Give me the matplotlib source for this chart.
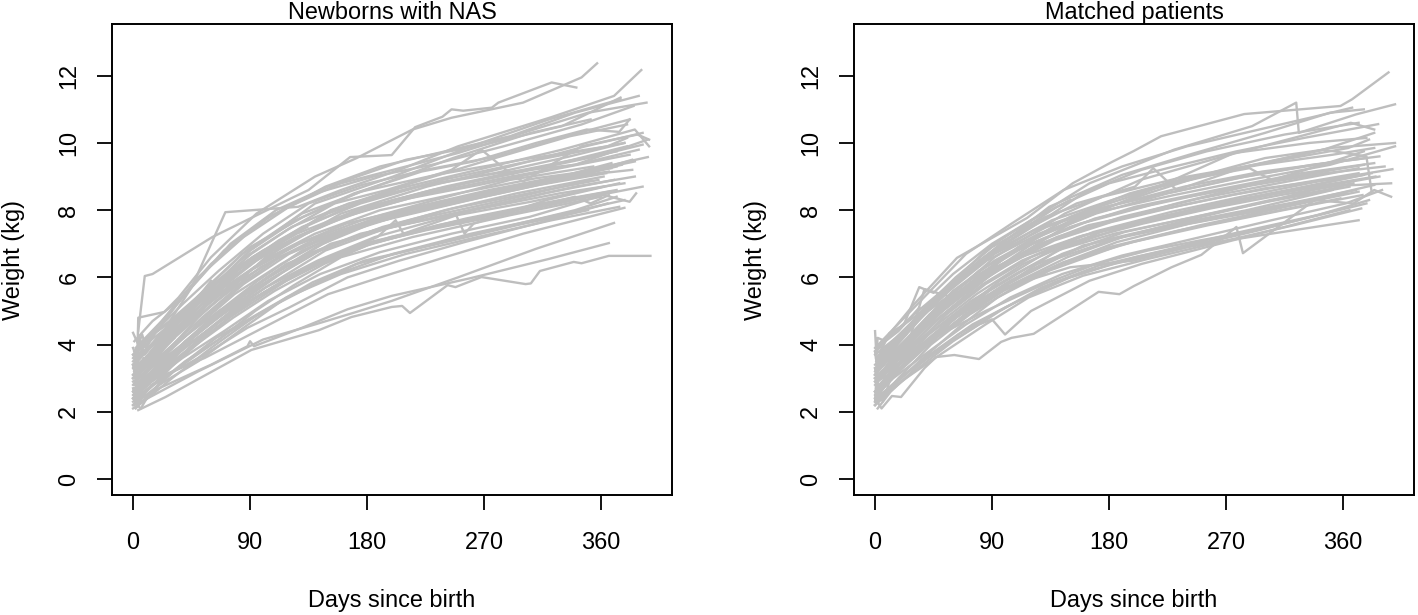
import matplotlib
matplotlib.use("Agg")
import matplotlib.pyplot as plt

# weight curves: (days, kg)
nas_outliers = [
    ([4, 9, 15, 61, 122, 135, 167, 199, 217, 238, 245, 254, 276, 281, 322, 341], [4.4, 6.04, 6.1, 7.2, 8.36, 8.6, 9.58, 9.64, 10.47, 10.78, 11.0, 10.96, 11.05, 11.2, 11.8, 11.65]),
    ([1, 25, 45, 71, 127, 160, 205, 250, 322, 370, 391], [3.4, 4.5, 5.7, 7.94, 8.1, 8.6, 9.2, 9.9, 10.77, 11.4, 12.17]),
    ([3, 4, 24, 35, 60, 95, 140, 172, 215, 245, 300, 345, 357], [3.2, 4.8, 4.97, 5.4, 6.6, 7.9, 9.0, 9.55, 10.4, 10.75, 11.2, 11.95, 12.37]),
    ([4, 25, 91, 143, 168, 199, 207, 213, 242, 248, 268, 302, 306, 313, 339, 345, 366, 398], [2.05, 2.44, 3.84, 4.43, 4.82, 5.12, 5.15, 4.94, 5.77, 5.71, 6.01, 5.8, 5.82, 6.19, 6.46, 6.42, 6.64, 6.64]),
    ([2, 20, 60, 88, 90, 93, 130, 165, 199, 260, 320, 366], [2.3, 2.7, 3.4, 3.95, 4.1, 3.95, 4.5, 5.05, 5.45, 5.98, 6.55, 7.02]),
    ([1, 16, 50, 100, 140, 170, 199, 250, 310, 370], [2.2, 2.5, 3.2, 4.15, 4.6, 4.95, 5.3, 6.0, 6.85, 7.62]),
    ([2, 18, 55, 100, 150, 190, 240, 300, 378], [2.6, 3.0, 3.6, 4.5, 5.5, 6.0, 6.6, 7.3, 8.07]),
]
nas_upper = [
    ([0, 20, 45, 75, 110, 150, 200, 250, 300, 350, 395], [3.7, 4.6, 5.7, 7.0, 8.0, 8.7, 9.2, 9.7, 10.3, 10.9, 11.2]),
    ([0, 18, 40, 70, 105, 148, 190, 240, 290, 340, 389], [3.5, 4.4, 5.5, 6.8, 7.8, 8.7, 9.3, 9.75, 10.2, 10.9, 11.4]),
    ([2, 22, 50, 85, 120, 165, 210, 270, 330, 375], [3.9, 4.7, 6.0, 7.2, 8.1, 8.9, 9.5, 9.95, 10.5, 11.35]),
    ([1, 15, 35, 60, 100, 140, 185, 230, 285, 345, 385], [4.1, 4.7, 5.3, 6.4, 7.7, 8.5, 9.0, 9.35, 9.9, 10.55, 11.1]),
    ([0, 12, 38, 66, 100, 135, 176, 225, 280, 333, 382], [3.6, 4.2, 5.2, 6.2, 7.3, 8.2, 8.75, 9.2, 9.6, 10.2, 10.7]),
    ([3, 25, 55, 90, 125, 170, 222, 262, 310, 349, 374, 382], [3.3, 4.3, 5.5, 6.8, 7.7, 8.5, 9.15, 9.45, 10.0, 10.4, 10.33, 10.7]),
    ([1, 20, 48, 82, 118, 155, 195, 245, 268, 290, 300, 345, 388, 397], [3.2, 4.1, 5.2, 6.5, 7.4, 8.2, 8.6, 9.2, 9.8, 9.1, 8.85, 9.9, 10.25, 10.1]),
    ([0, 16, 42, 72, 112, 150, 205, 265, 330, 386, 397], [3.4, 4.0, 4.9, 6.0, 7.1, 7.9, 8.65, 9.2, 9.8, 10.4, 9.9]),
    ([2, 30, 58, 92, 130, 175, 220, 280, 340, 396], [3.0, 4.3, 5.4, 6.6, 7.5, 8.2, 8.7, 9.1, 9.35, 10.1]),
    ([2, 40, 90, 140, 200, 260, 320, 375], [3.2, 4.9, 6.8, 8.2, 9.0, 9.9, 10.7, 11.3]),
    ([1, 36, 84, 130, 186, 246, 306, 352], [3.4, 4.9, 6.7, 7.9, 8.7, 9.55, 10.3, 10.7]),
    ([0, 44, 96, 152, 214, 274, 336, 380], [3.0, 4.9, 6.6, 8.0, 8.8, 9.5, 10.2, 10.55]),
    ([2, 50, 102, 160, 226, 290, 348, 392], [2.8, 4.8, 6.6, 7.9, 8.7, 9.3, 9.9, 10.3]),
]
nas_middle = [
    ([0, 14, 33, 62, 95, 125, 180, 240, 300, 372], [3.1, 3.7, 4.5, 5.5, 6.5, 7.2, 8.1, 8.7, 9.2, 9.75]),
    ([1, 12, 30, 58, 90, 128, 176, 232, 290, 354], [2.9, 3.3, 4.2, 5.2, 6.2, 7.0, 7.7, 8.3, 8.9, 9.3]),
    ([0, 18, 36, 70, 105, 140, 190, 250, 310, 368], [3.3, 3.9, 4.5, 5.7, 6.6, 7.3, 8.0, 8.5, 8.95, 9.25]),
    ([2, 10, 28, 55, 85, 120, 168, 228, 282, 340, 396], [2.7, 3.0, 3.8, 4.8, 5.8, 6.7, 7.5, 8.1, 8.6, 9.1, 9.58]),
    ([0, 15, 40, 65, 100, 135, 185, 240, 295, 362], [2.5, 3.1, 4.1, 4.9, 5.9, 6.7, 7.4, 8.0, 8.5, 9.0]),
    ([1, 14, 32, 60, 92, 132, 178, 238, 298, 378], [3.5, 4.0, 4.7, 5.7, 6.6, 7.5, 8.3, 8.9, 9.4, 10.0]),
    ([0, 9, 26, 52, 82, 112, 160, 215, 270, 330, 372], [3.0, 3.3, 4.0, 4.9, 5.9, 6.6, 7.4, 7.9, 8.4, 8.9, 9.3]),
    ([3, 20, 44, 74, 108, 146, 196, 254, 320, 376], [2.8, 3.4, 4.2, 5.2, 6.1, 7.0, 7.8, 8.3, 8.85, 9.35]),
    ([0, 11, 30, 56, 88, 118, 170, 226, 286, 352], [2.4, 2.9, 3.6, 4.6, 5.6, 6.4, 7.2, 7.8, 8.3, 8.9]),
    ([1, 16, 38, 68, 98, 138, 182, 236, 300, 366], [3.2, 3.7, 4.5, 5.4, 6.3, 7.1, 7.7, 8.25, 8.75, 9.15]),
    ([0, 13, 35, 63, 96, 130, 174, 220, 276, 344, 384], [2.6, 3.1, 3.9, 4.9, 5.9, 6.8, 7.5, 8.0, 8.55, 9.05, 9.5]),
    ([2, 17, 41, 76, 110, 150, 200, 262, 328, 380], [3.6, 4.1, 5.0, 6.0, 6.9, 7.6, 8.3, 8.85, 9.4, 9.9]),
    ([0, 8, 24, 48, 78, 114, 152, 206, 258, 312, 364], [2.9, 3.1, 3.7, 4.5, 5.5, 6.4, 7.2, 7.85, 8.3, 8.75, 9.1]),
    ([1, 19, 46, 72, 104, 144, 192, 246, 304, 358], [2.7, 3.3, 4.2, 5.0, 5.9, 6.8, 7.5, 8.05, 8.5, 8.9]),
    ([0, 12, 29, 57, 86, 126, 172, 230, 288, 350, 392], [3.4, 3.9, 4.6, 5.5, 6.4, 7.3, 8.0, 8.6, 9.05, 9.55, 9.95]),
    ([2, 15, 34, 64, 94, 134, 188, 202, 208, 260, 316, 370], [2.3, 2.8, 3.5, 4.5, 5.4, 6.3, 7.2, 7.7, 7.3, 8.0, 8.5, 8.9]),
    ([0, 10, 27, 50, 80, 116, 158, 212, 266, 322, 382], [3.1, 3.5, 4.2, 5.2, 6.2, 7.0, 7.75, 8.35, 8.75, 9.2, 9.65]),
    ([1, 13, 37, 69, 102, 142, 186, 242, 306, 362], [2.5, 2.9, 3.8, 4.8, 5.7, 6.5, 7.2, 7.8, 8.25, 8.7]),
    ([0, 16, 39, 61, 91, 122, 166, 224, 278, 336, 378], [3.7, 4.2, 4.9, 5.7, 6.7, 7.5, 8.2, 8.75, 9.1, 9.6, 10.0]),
    ([3, 21, 47, 78, 106, 148, 194, 248, 255, 262, 318, 374], [2.6, 3.2, 4.0, 5.1, 5.8, 6.8, 7.45, 7.9, 7.3, 7.6, 8.3, 8.8]),
    ([0, 9, 25, 53, 83, 113, 156, 208, 264, 324, 386], [2.8, 3.2, 3.8, 4.8, 5.8, 6.6, 7.3, 7.95, 8.45, 8.95, 9.45]),
    ([1, 14, 31, 59, 93, 127, 164, 218, 274, 334, 368], [3.3, 3.7, 4.3, 5.3, 6.3, 7.0, 7.6, 8.1, 8.6, 9.05, 9.4]),
    ([0, 18, 43, 73, 107, 145, 198, 256, 314, 372], [2.2, 2.9, 3.9, 4.9, 5.7, 6.5, 7.2, 7.75, 8.2, 8.6]),
    ([2, 11, 26, 54, 87, 121, 169, 227, 284, 346, 389], [3.0, 3.4, 4.0, 5.1, 6.1, 7.1, 7.9, 8.5, 8.95, 9.4, 9.8]),
    ([0, 15, 36, 67, 99, 137, 180, 234, 292, 356], [2.6, 3.0, 3.8, 4.7, 5.5, 6.3, 6.95, 7.55, 8.0, 8.45]),
    ([1, 12, 33, 62, 90, 131, 175, 233, 299, 365, 380], [3.8, 4.2, 4.8, 5.9, 6.9, 7.8, 8.55, 9.05, 9.5, 9.9, 10.15]),
    ([0, 20, 45, 77, 109, 147, 183, 244, 308, 340, 352, 366], [2.4, 3.1, 3.9, 4.8, 5.6, 6.4, 7.0, 7.6, 8.1, 8.4, 8.2, 8.45]),
    ([2, 17, 40, 71, 103, 141, 177, 237, 294, 360, 384], [2.7, 3.2, 4.0, 5.0, 6.0, 6.9, 7.6, 8.2, 8.65, 9.1, 9.2]),
    ([1, 24, 58, 95, 135, 175, 228, 282, 340, 386], [2.9, 3.6, 4.6, 5.6, 6.7, 7.3, 7.75, 8.2, 8.7, 9.0]),
    ([0, 28, 66, 108, 152, 205, 268, 328, 378], [3.0, 3.9, 5.0, 6.0, 7.0, 7.55, 8.05, 8.5, 8.8]),
    ([3, 34, 74, 118, 170, 225, 290, 352, 392], [2.5, 3.6, 4.8, 5.9, 6.9, 7.4, 7.9, 8.4, 8.7]),
    ([1, 42, 86, 128, 182, 244, 304, 366], [2.8, 4.0, 5.2, 6.2, 7.05, 7.6, 8.1, 8.55]),
]
nas_lower = [
    ([0, 16, 42, 75, 110, 150, 200, 260, 320, 378], [2.3, 2.8, 3.5, 4.4, 5.2, 6.0, 6.7, 7.3, 7.8, 8.3]),
    ([1, 14, 38, 70, 104, 144, 190, 245, 305, 362, 382, 387], [2.5, 2.9, 3.6, 4.4, 5.3, 6.1, 6.75, 7.3, 7.8, 8.45, 8.25, 8.5]),
    ([0, 20, 50, 85, 118, 160, 210, 265, 322, 374], [2.2, 2.8, 3.5, 4.5, 5.4, 6.1, 6.7, 7.2, 7.7, 8.1]),
    ([2, 12, 34, 64, 100, 138, 178, 235, 295, 350], [2.1, 2.5, 3.3, 4.2, 5.0, 5.85, 6.5, 7.0, 7.55, 8.0]),
    ([1, 22, 55, 88, 120, 165, 205, 255, 310, 365], [2.4, 3.0, 3.7, 4.5, 5.1, 6.0, 6.5, 7.05, 7.6, 8.2]),
    ([0, 8, 30, 60, 96, 128, 172, 222, 275, 340, 372], [2.1, 2.3, 3.0, 3.9, 4.9, 5.6, 6.4, 6.9, 7.4, 8.0, 8.4]),
    ([0, 3, 6, 12, 24, 40, 66, 94, 123, 160, 215, 290, 360], [2.7, 2.2, 2.1, 2.5, 3.0, 3.5, 4.15, 5.0, 5.75, 6.6, 7.2, 7.85, 8.4]),
    ([0, 4, 7, 10, 18, 28, 46, 68, 100, 134], [4.35, 4.0, 4.3, 3.9, 4.4, 4.7, 5.3, 6.0, 6.8, 7.5]),
    ([0, 3, 5, 9, 15, 26, 44, 60], [3.9, 3.6, 4.2, 3.7, 4.0, 4.4, 5.1, 5.9]),
    ([0, 2, 5, 8, 13, 22, 32], [3.4, 3.0, 3.1, 3.6, 3.3, 3.8, 4.2]),
    ([0, 4, 8, 14, 20, 30], [2.4, 2.2, 2.5, 2.8, 2.9, 3.4]),
]

matched_outliers = [
    ([0, 5, 13, 20, 38, 47, 61, 80, 97, 105, 122, 172, 188, 199, 228, 251, 278, 283, 338, 368, 384, 397], [2.4, 2.1, 2.47, 2.44, 3.3, 3.63, 3.69, 3.57, 4.08, 4.2, 4.32, 5.57, 5.5, 5.74, 6.3, 6.67, 7.5, 6.72, 8.3, 8.2, 8.6, 8.4]),
    ([0, 30, 63, 117, 152, 182, 199, 220, 284, 358, 367, 395], [3.8, 5.2, 6.58, 7.77, 8.8, 9.43, 9.76, 10.2, 10.86, 11.1, 11.3, 12.1]),
    ([2, 11, 22, 34, 45, 60, 90, 120, 150], [3.6, 4.34, 4.58, 5.71, 5.54, 6.1, 7.0, 7.7, 8.3]),
    ([1, 24, 62, 100, 150, 199, 240, 278, 330, 372], [2.9, 3.4, 4.8, 5.7, 6.3, 6.5, 6.9, 7.14, 7.45, 7.7]),
    ([0, 20, 45, 85, 130, 170, 210, 250, 290], [2.6, 3.3, 4.2, 5.0, 5.8, 6.4, 6.8, 7.1, 7.38]),
    ([1, 16, 50, 88, 120, 165, 230, 290, 324, 326, 370, 400], [3.6, 4.2, 5.5, 6.9, 7.7, 8.8, 9.8, 10.5, 11.2, 10.3, 10.85, 11.15]),
]
matched_upper = [
    ([0, 15, 40, 70, 105, 145, 190, 240, 290, 340, 367], [3.9, 4.5, 5.5, 6.7, 7.6, 8.6, 9.3, 9.9, 10.35, 10.8, 11.05]),
    ([2, 20, 52, 88, 125, 160, 205, 255, 315, 372], [3.4, 4.2, 5.5, 6.7, 7.6, 8.5, 9.2, 9.75, 10.25, 10.6]),
    ([0, 12, 36, 68, 100, 140, 180, 225, 278, 330, 387], [3.2, 3.9, 4.9, 6.1, 7.1, 8.1, 8.8, 9.25, 9.75, 10.15, 10.56]),
    ([1, 18, 46, 80, 115, 155, 200, 214, 232, 285, 345, 384], [3.6, 4.2, 5.3, 6.5, 7.4, 8.2, 8.7, 9.25, 8.6, 9.3, 9.8, 10.3]),
    ([0, 25, 58, 92, 130, 172, 220, 265, 310, 350, 400], [3.0, 4.0, 5.3, 6.4, 7.3, 8.1, 8.7, 9.1, 9.5, 9.85, 10.0]),
    ([3, 22, 55, 85, 118, 158, 210, 262, 300, 345, 378, 382], [3.3, 4.0, 5.3, 6.2, 7.05, 7.8, 8.5, 9.15, 9.55, 9.8, 9.6, 8.55]),
    ([0, 14, 44, 78, 110, 150, 196, 244, 296, 352, 384], [2.9, 3.5, 4.8, 5.9, 6.9, 7.8, 8.5, 9.0, 9.35, 9.65, 9.85]),
    ([1, 10, 30, 64, 98, 136, 186, 238, 288, 300, 306, 356, 376], [3.8, 4.2, 4.9, 6.0, 6.9, 7.7, 8.35, 8.9, 9.25, 9.0, 8.9, 9.5, 9.75]),
    ([1, 38, 84, 134, 190, 246, 300, 350, 376], [3.3, 4.9, 6.6, 8.1, 9.05, 9.7, 10.3, 10.9, 11.0]),
    ([0, 42, 92, 146, 204, 268, 322, 366, 384], [3.1, 4.9, 6.6, 7.9, 8.9, 9.6, 10.15, 10.6, 10.4]),
    ([2, 46, 96, 150, 212, 276, 334, 378], [2.9, 4.7, 6.3, 7.6, 8.6, 9.7, 10.0, 10.15]),
]
matched_middle = [
    ([0, 13, 32, 60, 92, 125, 170, 225, 285, 362], [3.1, 3.7, 4.5, 5.6, 6.5, 7.2, 7.9, 8.5, 9.0, 9.5]),
    ([1, 12, 28, 58, 88, 128, 176, 232, 290, 350], [2.9, 3.4, 4.2, 5.2, 6.2, 7.0, 7.6, 8.2, 8.75, 9.2]),
    ([0, 18, 36, 70, 105, 140, 190, 250, 310, 372], [3.3, 3.9, 4.5, 5.6, 6.5, 7.2, 7.8, 8.35, 8.8, 9.25]),
    ([2, 10, 26, 55, 85, 120, 168, 228, 282, 340, 398], [2.7, 3.1, 3.8, 4.9, 5.8, 6.6, 7.35, 7.95, 8.4, 8.85, 9.22]),
    ([0, 15, 40, 65, 100, 135, 185, 240, 295, 365], [2.5, 3.1, 4.1, 4.9, 5.8, 6.5, 7.15, 7.7, 8.2, 8.7]),
    ([1, 14, 32, 60, 92, 132, 178, 238, 298, 378], [3.5, 4.0, 4.8, 5.8, 6.7, 7.5, 8.1, 8.7, 9.15, 9.55]),
    ([0, 9, 26, 52, 82, 112, 160, 215, 270, 330, 385], [3.0, 3.3, 4.0, 5.0, 5.9, 6.6, 7.25, 7.75, 8.2, 8.65, 9.0]),
    ([3, 20, 44, 74, 108, 146, 196, 254, 320, 376], [2.8, 3.5, 4.4, 5.3, 6.1, 6.9, 7.55, 8.05, 8.6, 9.05]),
    ([0, 11, 30, 56, 88, 118, 170, 226, 286, 352], [2.4, 2.9, 3.7, 4.6, 5.6, 6.3, 7.05, 7.55, 8.0, 8.6]),
    ([1, 16, 38, 68, 98, 138, 182, 236, 300, 366], [3.2, 3.8, 4.6, 5.5, 6.3, 7.1, 7.65, 8.15, 8.65, 9.0]),
    ([0, 13, 35, 63, 96, 130, 174, 220, 276, 344, 397], [2.6, 3.1, 3.9, 4.9, 5.9, 6.7, 7.35, 7.8, 8.3, 8.7, 8.8]),
    ([2, 17, 41, 76, 110, 150, 200, 262, 328, 384], [3.6, 4.1, 5.0, 6.0, 6.8, 7.5, 8.1, 8.6, 9.1, 9.4]),
    ([0, 8, 24, 48, 78, 114, 152, 206, 258, 312, 368], [2.9, 3.2, 3.8, 4.6, 5.5, 6.4, 7.05, 7.6, 8.05, 8.45, 8.8]),
    ([1, 19, 46, 72, 104, 144, 192, 246, 304, 360], [2.7, 3.4, 4.3, 5.1, 5.9, 6.7, 7.35, 7.8, 8.3, 8.7]),
    ([0, 12, 29, 57, 86, 126, 172, 230, 288, 350, 400], [3.4, 3.9, 4.6, 5.6, 6.5, 7.3, 7.95, 8.45, 8.9, 9.35, 9.9]),
    ([2, 15, 34, 64, 94, 134, 188, 250, 316, 372], [2.3, 2.8, 3.5, 4.5, 5.4, 6.2, 6.95, 7.55, 8.1, 8.55]),
    ([0, 10, 27, 50, 80, 116, 158, 212, 266, 322, 376], [3.1, 3.6, 4.2, 5.2, 6.2, 6.95, 7.6, 8.15, 8.6, 9.0, 9.35]),
    ([1, 13, 37, 69, 102, 142, 186, 242, 306, 362], [2.5, 3.0, 3.9, 4.9, 5.7, 6.4, 7.05, 7.6, 8.05, 8.5]),
    ([0, 16, 39, 61, 91, 122, 166, 224, 278, 336, 388], [3.7, 4.2, 5.0, 5.8, 6.7, 7.4, 8.0, 8.5, 8.95, 9.35, 9.6]),
    ([3, 21, 47, 78, 106, 148, 194, 248, 318, 370], [2.6, 3.3, 4.2, 5.1, 5.8, 6.6, 7.25, 7.7, 8.2, 8.6]),
    ([0, 9, 25, 53, 83, 113, 156, 208, 264, 324, 382], [2.8, 3.2, 3.9, 4.9, 5.8, 6.5, 7.2, 7.7, 8.2, 8.65, 9.1]),
    ([1, 14, 31, 59, 93, 127, 164, 218, 274, 334, 372], [3.3, 3.8, 4.4, 5.4, 6.3, 7.0, 7.55, 8.0, 8.45, 8.85, 9.1]),
    ([0, 18, 43, 73, 107, 145, 198, 256, 314, 375], [2.2, 3.0, 4.0, 4.9, 5.7, 6.45, 7.05, 7.55, 8.0, 8.45]),
    ([2, 11, 26, 54, 87, 121, 169, 227, 284, 346, 392], [3.0, 3.5, 4.1, 5.2, 6.1, 7.0, 7.75, 8.3, 8.7, 9.1, 9.3]),
    ([0, 15, 36, 67, 99, 137, 180, 234, 292, 358], [2.6, 3.1, 3.9, 4.8, 5.6, 6.3, 6.9, 7.4, 7.85, 8.35]),
    ([1, 12, 33, 62, 90, 131, 175, 233, 299, 364, 380], [3.9, 4.3, 4.9, 6.0, 6.9, 7.8, 8.4, 8.95, 9.4, 9.85, 10.1]),
    ([1, 26, 60, 98, 140, 184, 240, 296, 352, 388], [2.9, 3.7, 4.8, 5.7, 6.8, 7.3, 7.75, 8.2, 8.75, 9.0]),
    ([0, 30, 70, 112, 160, 216, 280, 340, 384], [3.0, 4.0, 5.1, 6.0, 6.95, 7.4, 7.9, 8.35, 8.75]),
]
matched_lower = [
    ([0, 16, 42, 75, 110, 150, 200, 260, 320, 378], [2.3, 2.9, 3.7, 4.6, 5.3, 6.0, 6.6, 7.1, 7.65, 8.2]),
    ([1, 14, 38, 70, 104, 144, 190, 245, 305, 362, 390], [2.5, 3.0, 3.7, 4.6, 5.4, 6.1, 6.65, 7.15, 7.7, 8.2, 8.6]),
    ([0, 20, 50, 85, 118, 160, 210, 265, 322, 374], [2.2, 2.9, 3.7, 4.6, 5.4, 6.05, 6.55, 7.05, 7.55, 8.05]),
    ([2, 12, 34, 64, 100, 138, 178, 235, 295, 350], [2.1, 2.6, 3.4, 4.3, 5.1, 5.85, 6.35, 6.85, 7.4, 7.95]),
    ([1, 22, 55, 80, 90, 100, 120, 165, 205, 255, 310, 365], [2.4, 3.1, 4.0, 4.6, 4.75, 4.3, 5.0, 5.9, 6.4, 6.9, 7.45, 8.0]),
    ([0, 8, 30, 60, 96, 128, 172, 222, 275, 340, 380], [2.2, 2.5, 3.2, 4.1, 5.0, 5.7, 6.35, 6.8, 7.3, 7.85, 8.3]),
    ([0, 3, 6, 12, 24, 30, 38, 60], [3.3, 2.6, 2.3, 3.0, 3.8, 4.6, 5.65, 5.4]),
    ([0, 1, 2, 8, 18, 34], [4.4, 3.7, 4.2, 4.1, 4.4, 5.1]),
    ([0, 2, 5, 9, 14, 24], [3.8, 3.2, 3.9, 3.6, 3.9, 4.3]),
    ([0, 1, 4, 7, 12, 20], [2.3, 3.0, 2.5, 2.9, 3.2, 3.7]),
]

nas_groups = [nas_outliers, nas_upper, nas_middle, nas_lower]
matched_groups = [matched_outliers, matched_upper, matched_middle, matched_lower]
panel_titles = ["Newborns with NAS", "Matched patients"]
day_ticks = [0, 90, 180, 270, 360]
weight_ticks = [0, 2, 4, 6, 8, 10, 12]

plt.rcParams["font.family"] = ["Liberation Sans", "DejaVu Sans"]
plt.rcParams["font.size"] = 16.9

W, H = 1418, 615
fig = plt.figure(figsize=(W / 100, H / 100), dpi=100)

def draw_panel(left_px, groups, title):
    ax = fig.add_axes([left_px / W, 1 - 495 / H, 560 / W, 471 / H])
    for group in groups:
        for days, kg in group:
            ax.plot(days, kg, color="#BEBEBE", lw=1.7, solid_joinstyle="round")
    ax.set_xlim(-16.2, 414.6)
    ax.set_ylim(-0.476, 13.54)
    ax.set_xticks(day_ticks)
    ax.set_yticks(weight_ticks)
    ax.tick_params(length=10.8, width=1.3, color="black")
    ax.tick_params(axis="x", pad=15)
    ax.tick_params(axis="y", pad=12)
    for lab in ax.get_yticklabels():
        lab.set_rotation(90)
        lab.set_va("center")
    for s in ax.spines.values():
        s.set_linewidth(1.4)
    ax.set_title(title, fontsize=16.9, pad=3)
    ax.set_xlabel("Days since birth")
    ax.set_ylabel("Weight (kg)")
    ax.xaxis.set_label_coords(0.5, (495 - 601) / 471, transform=ax.transAxes)
    ax.xaxis.label.set_va("center")
    ax.yaxis.set_label_coords(-98 / 560, 0.5, transform=ax.transAxes)
    ax.yaxis.label.set_va("center")
    return ax

draw_panel(112, nas_groups, panel_titles[0])
draw_panel(854, matched_groups, panel_titles[1])

fig.savefig("out.png", dpi=100)
